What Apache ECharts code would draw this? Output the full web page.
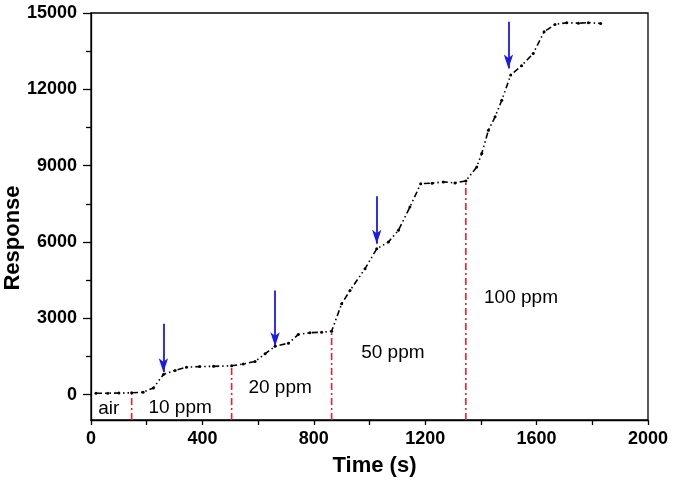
<!DOCTYPE html>
<html><head><meta charset="utf-8">
<script src="https://cdn.jsdelivr.net/npm/echarts@6/dist/echarts.min.js"></script>
<style>html,body{margin:0;padding:0;background:#fff}#c{width:675px;height:483px}</style>
</head><body><div id="c"></div>
<script>
const times = [18,60,100,146,187,224,260,302,343,390,440,505,547,589,625,661,709,744,786,828,864,900,930,984,1026,1068,1104,1145,1184,1225,1265,1307,1346,1385,1403,1427,1451,1475,1507,1546,1588,1627,1666,1708,1750,1786,1830];
const response = [50,55,60,70,90,260,790,950,1075,1100,1110,1130,1200,1300,1600,1900,2020,2360,2430,2450,2490,3570,4090,4950,5730,6000,6460,7370,8290,8310,8360,8320,8400,8950,9480,10390,10920,11570,12560,12930,13410,14260,14550,14620,14600,14620,14590];
const gasTimes = [146,505,864,1346];
const gasValues = [70,1130,2490,8400];
const arrowTimes = [260,661,1026,1499];
const arrowTops = [2780,4090,7800,14660];
const arrowTips = [880,1900,5930,12820];
const annotations = [
  {text:'air', t:64, v:-550},
  {text:'10 ppm', t:320, v:-510},
  {text:'20 ppm', t:679, v:275},
  {text:'50 ppm', t:1084, v:1650},
  {text:'100 ppm', t:1544, v:3820}
];
const xLabels = [0,400,800,1200,1600,2000];
const xTicks = [0,200,400,600,800,1000,1200,1400,1600,1800,2000];
const yLabels = [0,3000,6000,9000,12000,15000];
const yMinorTicks = [1500,4500,7500,10500,13500];

const font = 'Liberation Sans, Arial, sans-serif';
const chart = echarts.init(document.getElementById('c'));
const series = [{
  type:'line', data: times.map((t,i)=>[t,response[i]]),
  symbol:'circle', symbolSize:3, showSymbol:true,
  itemStyle:{color:'#000'},
  lineStyle:{color:'#000', width:1.6, type:[6,3,1.5,3,1.5,3]},
  z:5, animation:false
}];
gasTimes.forEach((t,i)=>{
  series.push({type:'line', data:[[t,-1000],[t,gasValues[i]]], symbol:'none',
    lineStyle:{color:'#e8202a', width:1.6, type:[7,3,2,3]}, animation:false, z:3});
});
arrowTimes.forEach((t,i)=>{
  series.push({type:'line', data:[], symbol:'none', animation:false,
    markLine:{silent:true, symbol:['none','arrow'], symbolSize:[7,14], animation:false,
      lineStyle:{color:'#1a1ae6', width:1.8, type:'solid'}, label:{show:false},
      data:[[{coord:[t,arrowTops[i]]},{coord:[t,arrowTips[i]]}]]}});
});
series.push({type:'scatter', symbolSize:0, animation:false, silent:true, z:10,
  itemStyle:{opacity:1},
  data: annotations.map(a=>({value:[a.t,a.v], label:{show:true, formatter:a.text}})),
  label:{show:true, position:'inside', color:'#000', fontSize:19, fontFamily:font,
         textBorderWidth:0, textShadowBlur:0, opacity:1}});

chart.setOption({
  animation:false,
  grid:{left:91, right:27, top:13, bottom:63, show:true, borderColor:'#000', borderWidth:1.3,
        containLabel:false, outerBoundsMode:'none'},
  graphic:[{type:'text', x:13, y:238, rotation:Math.PI/2,
    style:{text:'Response', fontSize:22, fontWeight:'bold', fontFamily:font, fill:'#000',
           align:'center', verticalAlign:'middle'}}],
  xAxis:{type:'value', min:0, max:2000,
    name:'Time (s)', nameLocation:'middle', nameGap:35,
    nameTextStyle:{fontSize:22, fontWeight:'bold', fontFamily:font, color:'#000', padding:[0,0,0,10]},
    axisLine:{show:true, onZero:false, lineStyle:{color:'#000', width:1.3}},
    axisTick:{show:true, length:5, lineStyle:{color:'#000', width:1.3}, customValues:xTicks},
    axisLabel:{customValues:xLabels, formatter:v=>String(v), fontSize:18, fontWeight:'bold', fontFamily:font, color:'#000', margin:10},
    splitLine:{show:false}},
  yAxis:[{type:'value', min:-1000, max:15000,
    axisLine:{show:true, onZero:false, lineStyle:{color:'#000', width:1.3}},
    axisTick:{show:true, length:8, lineStyle:{color:'#000', width:1.3}, customValues:yLabels},
    axisLabel:{customValues:yLabels, formatter:v=>String(v), fontSize:18, fontWeight:'bold', fontFamily:font, color:'#000', margin:14},
    splitLine:{show:false}},
  {type:'value', min:-1000, max:15000, position:'left',
    axisLine:{show:false, onZero:false},
    axisTick:{show:true, length:5, lineStyle:{color:'#000', width:1.3}, customValues:yMinorTicks},
    axisLabel:{show:false}, splitLine:{show:false}}],
  series: series
});
</script></body></html>
